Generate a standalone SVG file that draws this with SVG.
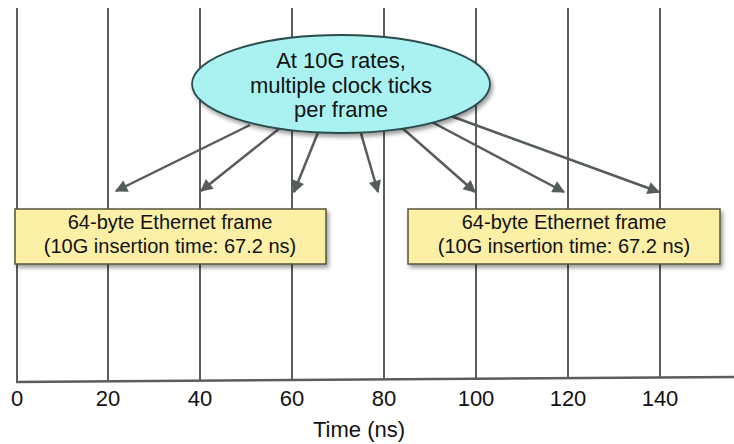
<svg xmlns="http://www.w3.org/2000/svg" width="734" height="444" viewBox="0 0 734 444">
<style>
.grid{stroke:#5c5c5c;stroke-width:2;fill:none}
.axis{stroke:#5c5c5c;stroke-width:2.5;fill:none}
.arr{stroke:#565c5c;stroke-width:2.5;fill:none;marker-end:url(#ah)}
.t{font-family:"Liberation Sans",Arial,sans-serif;fill:#111;text-anchor:middle}
.tick{font-size:22px}
.box{fill:#fcf0a6;stroke:#55553a;stroke-width:1.5}
.bt{font-size:20px}
.et{font-size:22px}
</style>
<defs>
<marker id="ah" viewBox="0 0 10 10" refX="9" refY="5" markerWidth="6" markerHeight="5" orient="auto" markerUnits="strokeWidth">
<path d="M0,0 L10,5 L0,10 z" fill="#565c5c"/>
</marker>
<filter id="sh" x="-10%" y="-20%" width="125%" height="150%">
<feGaussianBlur in="SourceAlpha" stdDeviation="2"/>
<feOffset dx="2" dy="3" result="b"/>
<feComponentTransfer><feFuncA type="linear" slope="0.4"/></feComponentTransfer>
<feMerge><feMergeNode/><feMergeNode in="SourceGraphic"/></feMerge>
</filter>
</defs>
<rect width="734" height="444" fill="#fff"/>
<g id="grid">
<line class="grid" x1="17" y1="8" x2="17" y2="382"/>
<line class="grid" x1="108" y1="8" x2="108" y2="381"/>
<line class="grid" x1="200" y1="8" x2="200" y2="381"/>
<line class="grid" x1="292" y1="8" x2="292" y2="380"/>
<line class="grid" x1="384" y1="8" x2="384" y2="380"/>
<line class="grid" x1="476" y1="8" x2="476" y2="379"/>
<line class="grid" x1="568" y1="8" x2="568" y2="379"/>
<line class="grid" x1="660" y1="8" x2="660" y2="378"/>
<line class="axis" x1="16" y1="382" x2="734" y2="377"/>
</g>
<g id="connectors">
<line class="arr" x1="250" y1="125" x2="116" y2="191"/>
<line class="arr" x1="280" y1="128" x2="201" y2="191"/>
<line class="arr" x1="319" y1="130" x2="294" y2="192"/>
<line class="arr" x1="360" y1="130" x2="378" y2="192"/>
<line class="arr" x1="400" y1="126" x2="475" y2="192"/>
<line class="arr" x1="428" y1="120" x2="564" y2="192"/>
<line class="arr" x1="448" y1="115" x2="659" y2="192"/>
</g>
<g id="callout">
<ellipse cx="341" cy="84" rx="149" ry="49" fill="#aaf2f2" stroke="#2c4c4c" stroke-width="1.8" filter="url(#sh)"/>
<text class="t et" x="341" y="68">At 10G rates,</text>
<text class="t et" x="341" y="93">multiple clock ticks</text>
<text class="t et" x="341" y="117">per frame</text>
</g>
<g id="frame1">
<rect class="box" x="15" y="209" width="311" height="55" filter="url(#sh)"/>
<text class="t bt" x="170" y="229">64-byte Ethernet frame</text>
<text class="t bt" x="170" y="253">(10G insertion time: 67.2 ns)</text>
</g>
<g id="frame2">
<rect class="box" x="408" y="209" width="312" height="55" filter="url(#sh)"/>
<text class="t bt" x="564" y="229">64-byte Ethernet frame</text>
<text class="t bt" x="564" y="253">(10G insertion time: 67.2 ns)</text>
</g>
<g id="labels">
<text class="t tick" x="17" y="406">0</text>
<text class="t tick" x="108" y="406">20</text>
<text class="t tick" x="200" y="406">40</text>
<text class="t tick" x="292" y="406">60</text>
<text class="t tick" x="384" y="406">80</text>
<text class="t tick" x="476" y="406">100</text>
<text class="t tick" x="568" y="406">120</text>
<text class="t tick" x="660" y="406">140</text>
<text class="t tick" x="359" y="437">Time (ns)</text>
</g>
</svg>
